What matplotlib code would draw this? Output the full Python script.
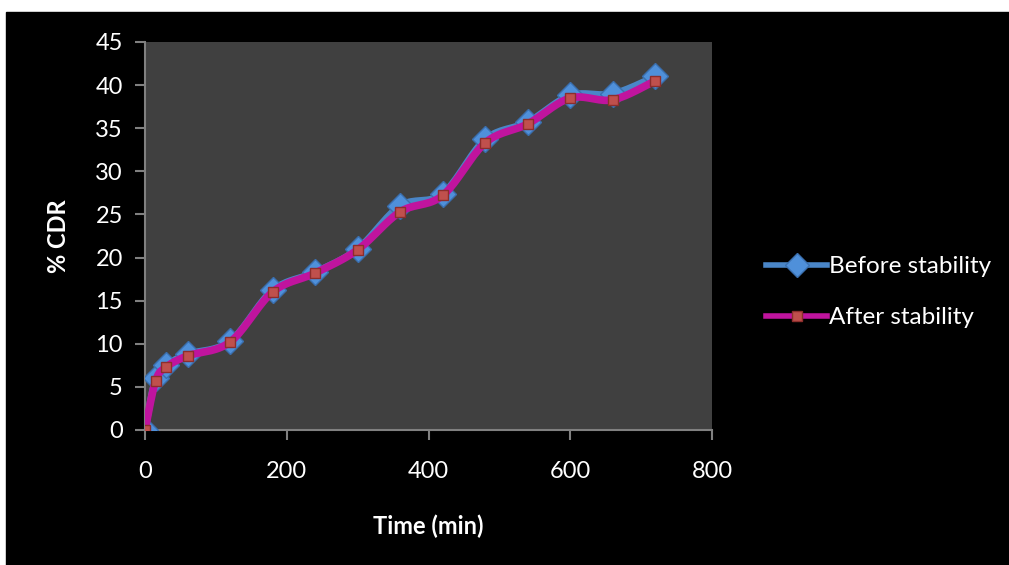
import numpy as np
import matplotlib
matplotlib.use('Agg')
import matplotlib.pyplot as plt
from matplotlib.patches import Rectangle

# data
time_min = [0, 15, 30, 60, 120, 180, 240, 300, 360, 420, 480, 540, 600, 660, 720]
before = [0, 6.0, 7.5, 8.8, 10.3, 16.2, 18.3, 21.0, 26.0, 27.4, 33.7, 35.7, 38.8, 39.0, 41.0]
after = [0, 5.7, 7.3, 8.6, 10.2, 16.0, 18.2, 20.9, 25.3, 27.2, 33.3, 35.5, 38.5, 38.3, 40.5]
xticks = [0, 200, 400, 600, 800]
yticks = list(range(0, 50, 5))

plt.rcParams['font.family'] = ['Lato', 'DejaVu Sans']


def smooth(x, y, n=20):
    # catmull-rom curve through the points, like excel's smoothed line
    x = np.asarray(x, float)
    y = np.asarray(y, float)
    px = np.concatenate([[x[0]], x, [x[-1]]])
    py = np.concatenate([[y[0]], y, [y[-1]]])
    t = np.linspace(0, 1, n)
    xs, ys = [], []
    for i in range(1, len(px) - 2):
        for p, out in ((px, xs), (py, ys)):
            p0, p1, p2, p3 = p[i - 1], p[i], p[i + 1], p[i + 2]
            out.extend(0.5 * (2 * p1 + (-p0 + p2) * t
                              + (2 * p0 - 5 * p1 + 4 * p2 - p3) * t ** 2
                              + (-p0 + 3 * p1 - 3 * p2 + p3) * t ** 3))
    return xs, ys


fig = plt.figure(figsize=(10.09, 5.65), dpi=100, facecolor='white')
fig.patches.append(Rectangle((6 / 1009, 0), 1 - 6 / 1009, 1 - 12 / 565,
                             transform=fig.transFigure, color='black', zorder=-1))

ax = fig.add_axes([145 / 1009, 1 - 430 / 565, 567 / 1009, 388 / 565])
ax.set_facecolor('#404040')

blue = '#4A86C8'
mag = '#C0149E'

bx, by = smooth(time_min, before)
ax.plot(bx, by, color=blue, lw=5, solid_capstyle='round', zorder=2)
ax.plot(time_min, before, ls='none', marker='D', ms=13, color='#4F90DA',
        markeredgecolor='#3A6FAE', markeredgewidth=1, zorder=3)

ax_, ay = smooth(time_min, after)
ax.plot(ax_, ay, color=mag, lw=5.5, solid_capstyle='round', zorder=4)
ax.plot(time_min, after, ls='none', marker='s', ms=7.5, color='#C0504D',
        markeredgecolor='#8C2E2C', markeredgewidth=1, zorder=5)

# legend handles
ax.plot([], [], color=blue, lw=4, marker='D', ms=12, mfc='#4F90DA',
        mec='#3A6FAE', label='Before stability')
ax.plot([], [], color=mag, lw=4, marker='s', ms=7.5, mfc='#C0504D',
        mec='#8C2E2C', label='After stability')
handles, labels = ax.get_legend_handles_labels()
leg = ax.legend(handles[-2:], labels[-2:], loc='center left',
                bbox_to_anchor=(1.057, 0.355), frameon=False, fontsize=17.5,
                handlelength=2.5, handletextpad=0.1, labelspacing=1.25,
                labelcolor='white')

ax.set_xlim(0, 800)
ax.set_ylim(0, 45)
ax.set_xticks(xticks)
ax.set_yticks(yticks)
ax.tick_params(colors='#808080', labelcolor='white', labelsize=17,
               length=7, width=1.5, direction='out')
ax.tick_params(axis='x', pad=15)
ax.tick_params(axis='y', pad=9)
for s in ['top', 'right']:
    ax.spines[s].set_visible(False)
for s in ['left', 'bottom']:
    ax.spines[s].set_color('#808080')
    ax.spines[s].set_linewidth(1.5)

ax.set_xlabel('Time (min)', color='white', fontsize=17, fontweight='bold', labelpad=24)
ax.set_ylabel('% CDR', color='white', fontsize=17, fontweight='bold', labelpad=18)

fig.savefig('out.png', dpi=100, facecolor=fig.get_facecolor())
